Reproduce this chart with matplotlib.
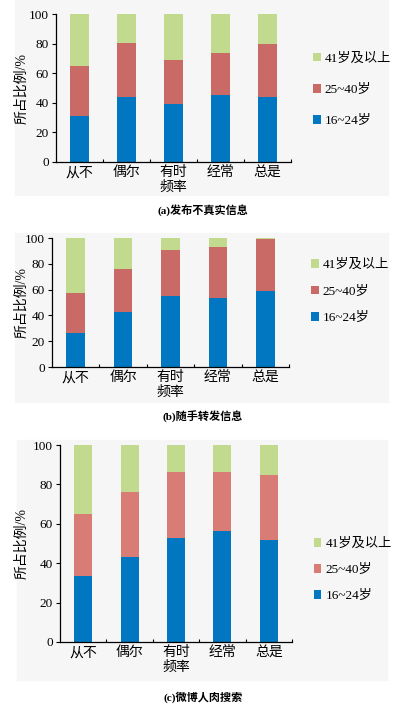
import matplotlib.pyplot as plt
from matplotlib.patches import Rectangle
import numpy as np

plt.rcParams['font.family'] = ['Liberation Serif', 'Noto Sans CJK SC']

categories = ["从不", "偶尔", "有时", "经常", "总是"]
groups = ["16~24岁", "25~40岁", "41岁及以上"]

# share of 16~24 and 25~40 (rest = 41+)
a_young = [31.4, 44.0, 39.1, 45.4, 44.0]
a_mid = [33.4, 36.1, 30.0, 28.4, 35.5]
b_young = [26.5, 42.7, 55.0, 53.2, 59.1]
b_mid = [31.1, 33.1, 36.0, 40.1, 40.1]
c_young = [33.4, 43.2, 52.7, 56.4, 52.0]
c_mid = [31.5, 32.9, 33.7, 30.0, 32.7]

captions = ["(a)发布不真实信息", "(b)随手转发信息", "(c)微博人肉搜索"]

W, H = 393, 708
bg = "#f6f6f6"
blue = "#0077c0"
reds = ["#c96a66", "#c96a66", "#d97c75"]
green = "#c2da8e"

fig = plt.figure(figsize=(W / 100, H / 100), dpi=100)


def px(x0, y0, x1, y1):
    return [x0 / W, 1 - y1 / H, (x1 - x0) / W, (y1 - y0) / H]


panels = [
    dict(ax=(56, 14, 291, 162), bg=(15, 0, 388, 195), cap=210, leg=0.775, sp=1.45,
         data=(a_young, a_mid)),
    dict(ax=(52, 238, 289, 367), bg=(15, 233, 388, 402), cap=417, leg=0.88, sp=1.1,
         data=(b_young, b_mid)),
    dict(ax=(60, 445, 292, 642), bg=(17, 440, 387, 680), cap=697, leg=0.555, sp=1.05,
         data=(c_young, c_mid)),
]

for i, p in enumerate(panels):
    x0, y0, x1, y1 = p["bg"]
    fig.patches.append(Rectangle((x0 / W, 1 - y1 / H), (x1 - x0) / W, (y1 - y0) / H,
                                 transform=fig.transFigure, color=bg, zorder=-10))
    ax = fig.add_axes(px(*p["ax"]))
    ax.set_facecolor("none")
    young, mid = [np.array(v) for v in p["data"]]
    old = 100 - young - mid
    x = np.arange(len(categories))
    w = 0.39
    b1 = ax.bar(x, young, w, color=blue, label=groups[0])
    b2 = ax.bar(x, mid, w, bottom=young, color=reds[i], label=groups[1])
    b3 = ax.bar(x, old, w, bottom=young + mid, color=green, label=groups[2])
    ax.set_xlim(-0.5, 4.5)
    ax.set_ylim(0, 100)
    ax.set_yticks(range(0, 101, 20))
    ax.set_xticks(x)
    ax.set_xticklabels(categories)
    ax.set_xticks(np.arange(-0.5, 5, 1.0)[1:], minor=True)
    ax.tick_params(axis="x", which="major", length=0, labelsize=10, pad=3)
    ax.tick_params(axis="x", which="minor", direction="in", length=2.5, width=0.8)
    ax.tick_params(axis="y", direction="out", length=3, width=0.8, labelsize=9.5, pad=2)
    for s in ["top", "right"]:
        ax.spines[s].set_visible(False)
    for s in ["left", "bottom"]:
        ax.spines[s].set_linewidth(0.9)
    ax.set_xlabel("频率", fontsize=10, labelpad=1)
    ax.set_ylabel("所占比例/%", fontsize=10, va="center")
    ax0, _, ax1, _ = p["ax"]
    ax.yaxis.set_label_coords((22 - ax0) / (ax1 - ax0), 0.5)
    ax.legend([b3, b2, b1], [groups[2], groups[1], groups[0]], loc="upper left",
              bbox_to_anchor=(1.07, p["leg"]), frameon=False, fontsize=9.5,
              handlelength=0.6, handleheight=0.6, handletextpad=0.3,
              labelspacing=p["sp"], borderaxespad=0)
    fig.text(203 / W, 1 - p["cap"] / H, captions[i], ha="center", va="center",
             fontsize=8, fontweight="bold")

fig.savefig("out.png", dpi=100)
